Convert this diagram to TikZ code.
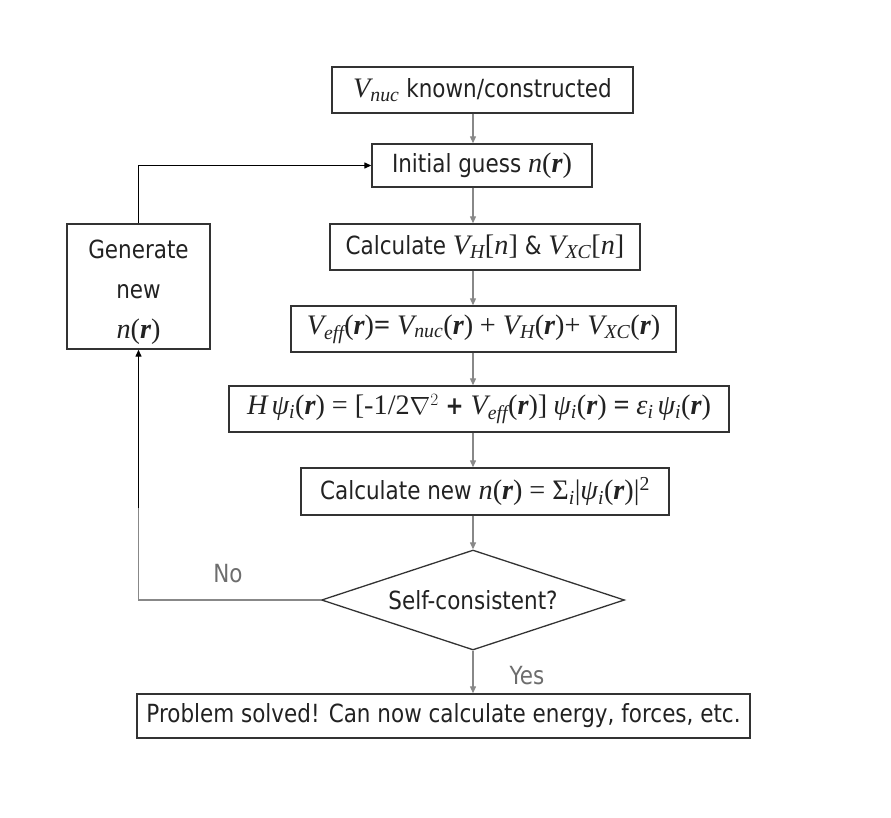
\documentclass[tikz,border=0pt]{standalone}
\usepackage{fontspec}
\setmainfont{DejaVu Sans}[FakeStretch=0.86]
\newfontfamily\tmfont{Liberation Serif}[Scale=1.13]
\usetikzlibrary{arrows.meta,shapes.geometric,calc}
\newcommand{\mi}[1]{{\tmfont\itshape #1}}
\newcommand{\bfr}{{\tmfont\bfseries\itshape r}}
\newcommand{\sbs}[1]{\textsubscript{\tmfont\itshape #1}}
\newcommand{\pr}[1]{{\tmfont(}#1{\tmfont)}}
\definecolor{txt}{HTML}{222222}
\definecolor{bord}{HTML}{333333}
\definecolor{arrg}{HTML}{888888}
\tikzset{
  box/.style={draw=bord, line width=1.4pt, text=txt, inner sep=1pt,
    font=\fontsize{25}{40}\selectfont},
  dia/.style={diamond, aspect=3.03, draw=bord, line width=1.3pt, text=txt, inner sep=0pt,
    font=\fontsize{25}{30}\selectfont},
  garr/.style={draw=arrg, line width=1.2pt, -{Triangle[length=7pt,width=6pt]}},
  gline/.style={draw=arrg, line width=1.2pt},
  barr/.style={draw=black, line width=1.3pt, -{Triangle[length=7pt,width=6pt]}},
  lbl/.style={text=arrg!80!black, font=\fontsize{25}{30}\selectfont}
}
\begin{document}
\begin{tikzpicture}[x=1pt,y=-1pt]
\useasboundingbox (0,0) rectangle (891,817);
\node[box, minimum width=301pt, minimum height=46pt] (vnuc) at (482.5,90) {\mi{V}\sbs{nuc} known/constructed};
\node[box, minimum width=220pt, minimum height=43pt] (init) at (482,165.5) {Initial guess \mi{n}\pr{\bfr}};
\node[box, minimum width=310pt, minimum height=46pt] (calc) at (485,247) {Calculate \mi{V}\sbs{H}{\tmfont[}\mi{n}{\tmfont]} \& \mi{V}\sbs{XC}{\tmfont[}\mi{n}{\tmfont]}};
\node[box, minimum width=385pt, minimum height=46pt] (veff) at (483.5,329) {\mi{V}\sbs{eff}\pr{\bfr}{\tmfont\bfseries=} \mi{V}\sbs{nuc}\pr{\bfr} {\tmfont+} \mi{V}\sbs{H}\pr{\bfr}{\tmfont+} \mi{V}\sbs{XC}\pr{\bfr}};
\node[box, minimum width=500pt, minimum height=46pt] (hpsi) at (479,409) {\mi{H}\,\mi{ψ}\sbs{i}\pr{\bfr} {\tmfont = [-1/2}$\nabla^2$ {\bfseries +} \mi{V}\sbs{eff}\pr{\bfr}{\tmfont]}\hspace{6pt}\mi{ψ}\sbs{i}\pr{\bfr} {\tmfont\bfseries =} \mi{ε}\sbs{i}\hspace{4pt}\mi{ψ}\sbs{i}\pr{\bfr}};
\node[box, minimum width=368pt, minimum height=47pt] (calcn) at (485,491.5) {Calculate new \mi{n}\pr{\bfr} {\tmfont = Σ}\sbs{i}{\tmfont|}\mi{ψ}\sbs{i}\pr{\bfr}{\tmfont|}\textsuperscript{\tmfont 2}};
\node[dia, minimum width=303pt, minimum height=100pt] (sc) at (473,600) {Self-consistent?};
\node[box, minimum width=613pt, minimum height=44pt] (final) at (443.5,716) {Problem solved! Can now calculate energy, forces, etc.};
\node[box, minimum width=143pt, minimum height=125pt,
  label={[text=txt, font=\fontsize{25}{40}\selectfont, align=center, yshift=-6pt]center:Generate\\new\\\mi{n}\pr{\bfr}}] (gen) at (138.5,286.5) {};
\coordinate (mid) at (138.5,508);
% main column arrows
\draw[garr] (vnuc.south -| sc.north) -- (init.north -| sc.north);
\draw[garr] (init.south -| sc.north) -- (calc.north -| sc.north);
\draw[garr] (calc.south -| sc.north) -- (veff.north -| sc.north);
\draw[garr] (veff.south -| sc.north) -- (hpsi.north -| sc.north);
\draw[garr] (hpsi.south -| sc.north) -- (calcn.north -| sc.north);
\draw[garr] (calcn.south -| sc.north) -- (sc.north);
\draw[garr] (sc.south) -- (final.north -| sc.south);
% loop
\draw[gline] (sc.west) -| (mid);
\draw[barr] (mid) -- (gen.south);
\draw[barr] (gen.north) |- (init.west);
\node[lbl] (no) at (228,574) {No};
\node[lbl] (yes) at (527,676) {Yes};
\end{tikzpicture}
\end{document}
